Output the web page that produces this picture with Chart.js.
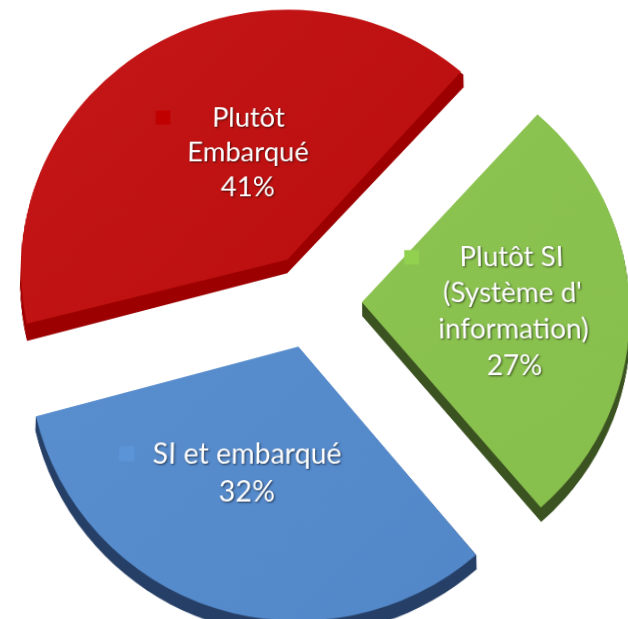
<!DOCTYPE html>
<html>
<head>
<meta charset="utf-8">
<script src="https://cdn.jsdelivr.net/npm/chart.js@4/dist/chart.umd.min.js"></script>
<style>
  html, body { margin: 0; padding: 0; background: #fff; overflow: hidden; }
  #wrap { position: relative; width: 628px; height: 619px; overflow: hidden; }
  /* legere perspective comme le camembert 3D d'Excel */
  #pie-chart {
    position: absolute; left: -36px; top: -40px;
    transform: perspective(1600px) rotateX(12deg);
    transform-origin: 350px 349.5px;
  }
</style>
</head>
<body>
<div id="wrap"><canvas id="pie-chart" width="700" height="700"></canvas></div>
<script>
// donnees
const categories = [['Plutôt', 'Embarqué'], ['Plutôt SI', "(Système d'", 'information)'], ['SI et embarqué']];
const values = [41, 27, 32];

const topLight = ['#c71919', '#90c755', '#5d92d2'];
const topDark  = ['#b30606', '#85bd4a', '#4f84c6'];
const keyColor = ['#c00000', '#92d050', '#5b95d8'];
const sideColor = ['#9c0000', '#3b5221', '#263f66'];
const depth = 14;
const R = 268;

const total = values.reduce((a, b) => a + b, 0);

// Chart.js grossit les parts decalees de moins de 180 degres : on compense
function radiusFix(arc) {
  const off = (arc.options.offset || 0) / 4;
  return off * (1 - Math.sin(Math.min(Math.PI, arc.circumference || 0)));
}
const sameRadius = {
  id: 'sameRadius',
  afterDatasetsUpdate(chart) {
    chart.getDatasetMeta(0).data.forEach(arc => {
      arc.outerRadius = R - radiusFix(arc);
    });
  }
};

// faces laterales (effet 3D)
const side3d = {
  id: 'side3d',
  beforeDatasetsDraw(chart) {
    const ctx = chart.ctx;
    chart.getDatasetMeta(0).data.forEach((arc, i) => {
      const p = arc.getProps(['x', 'y', 'startAngle', 'endAngle', 'outerRadius']);
      const off = (arc.options.offset || 0) / 4;
      const mid = (p.startAngle + p.endAngle) / 2;
      const cx = p.x + Math.cos(mid) * off;
      const cy = p.y + Math.sin(mid) * off;
      const rr = p.outerRadius + radiusFix(arc);
      ctx.save();
      ctx.fillStyle = sideColor[i];
      for (let d = 1; d <= depth; d++) {
        ctx.beginPath();
        ctx.moveTo(cx, cy + d);
        ctx.arc(cx, cy + d, rr, p.startAngle, p.endAngle);
        ctx.closePath();
        ctx.fill();
      }
      ctx.restore();
    });
  }
};

// etiquettes dans les parts
const nudges = [[29, 2], [17, 7], [-10, -2]];
const sliceLabels = {
  id: 'sliceLabels',
  afterDatasetsDraw(chart) {
    const ctx = chart.ctx;
    const lineH = 37;
    ctx.save();
    ctx.font = '28px Lato';
    ctx.textAlign = 'center';
    ctx.textBaseline = 'middle';
    chart.getDatasetMeta(0).data.forEach((arc, i) => {
      const p = arc.getProps(['x', 'y', 'startAngle', 'endAngle']);
      const off = (arc.options.offset || 0) / 4;
      const mid = (p.startAngle + p.endAngle) / 2;
      const r = off + R * 0.5;
      const bx = p.x + Math.cos(mid) * r + nudges[i][0];
      const by = p.y + Math.sin(mid) * r + nudges[i][1];
      const lines = categories[i].concat([Math.round(values[i] / total * 100) + '%']);
      const y0 = by - (lines.length - 1) * lineH / 2;
      let maxW = 0;
      lines.forEach(t => { maxW = Math.max(maxW, ctx.measureText(t).width); });
      // carre de legende
      ctx.shadowColor = 'transparent';
      ctx.fillStyle = keyColor[i];
      ctx.fillRect(bx - maxW / 2 - 33, y0 - 8, 15, 15);
      ctx.shadowColor = 'rgba(0,0,0,0.6)';
      ctx.shadowBlur = 2;
      ctx.shadowOffsetX = 1;
      ctx.shadowOffsetY = 1;
      ctx.fillStyle = '#ffffff';
      lines.forEach((t, k) => ctx.fillText(t, bx, y0 + k * lineH));
    });
    ctx.restore();
  }
};

new Chart(document.getElementById('pie-chart'), {
  type: 'pie',
  data: {
    labels: categories,
    datasets: [{
      data: values,
      backgroundColor: (c) => {
        const i = c.dataIndex;
        const area = c.chart.chartArea;
        if (!area) return topDark[i];
        const g = c.chart.ctx.createLinearGradient(area.left, area.top, area.right, area.bottom);
        g.addColorStop(0, topLight[i]);
        g.addColorStop(1, topDark[i]);
        return g;
      },
      borderWidth: 0,
      offset: [200, 196, 194],
      clip: false
    }]
  },
  options: {
    responsive: false,
    animation: false,
    rotation: 255,
    radius: R,
    layout: { padding: { left: 0, right: 2, top: 0, bottom: 18 } },
    plugins: {
      legend: { display: false },
      tooltip: { enabled: false }
    }
  },
  plugins: [sameRadius, side3d, sliceLabels]
});
</script>
</body>
</html>
